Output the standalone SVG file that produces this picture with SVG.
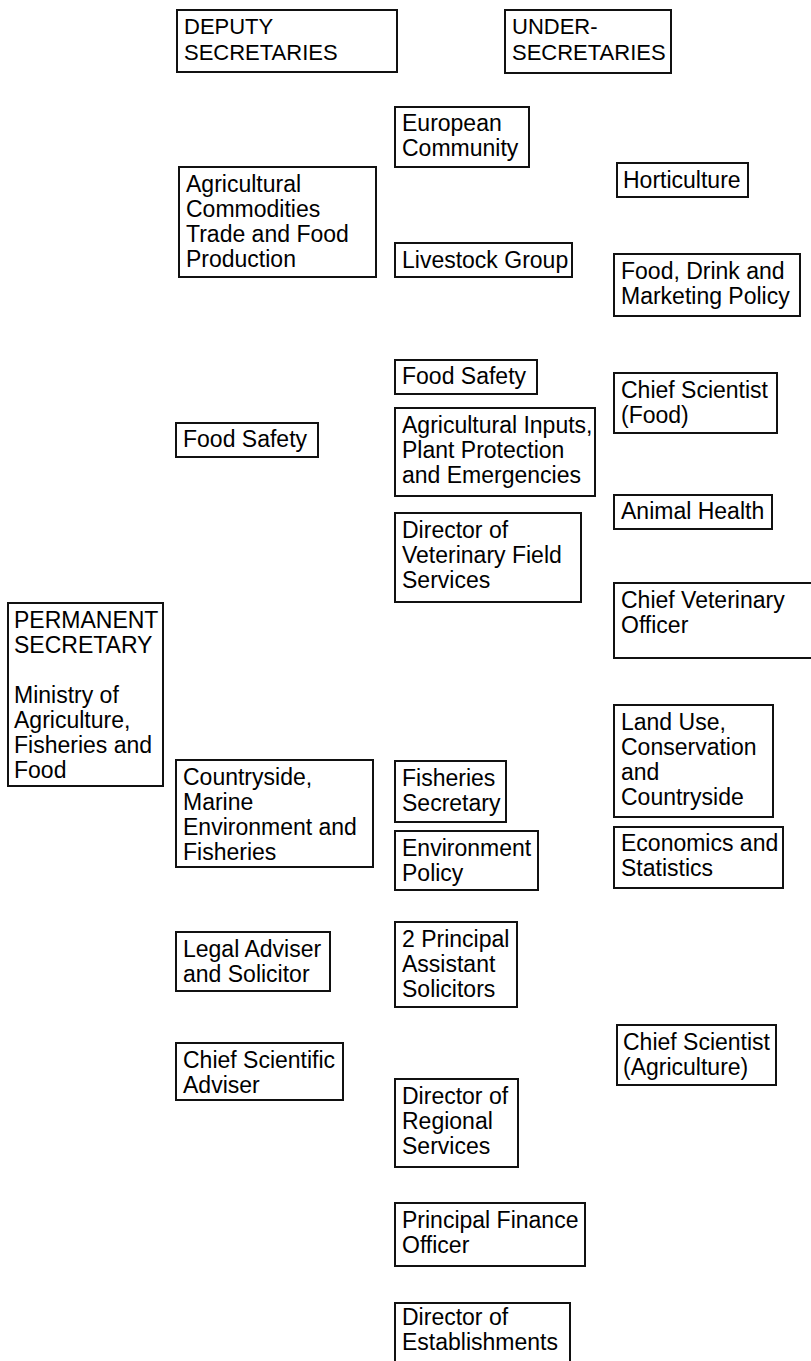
<svg xmlns="http://www.w3.org/2000/svg" width="811" height="1361" viewBox="0 0 811 1361">
<style>
rect{fill:#fff;stroke:#111;stroke-width:2}
text{font-family:"Liberation Sans",Arial,sans-serif;font-size:23px;fill:#000}
text.h{font-size:22px}
</style>
<rect x="0" y="0" width="811" height="1361" style="stroke:none"/>
<g id="connectors"></g>
<g id="deputy-header"><rect x="177" y="10" width="220" height="62"/><text class="h" x="184" y="34">DEPUTY</text><text class="h" x="184" y="60">SECRETARIES</text></g>
<g id="under-header"><rect x="505" y="10" width="166" height="63"/><text class="h" x="512" y="34">UNDER-</text><text class="h" x="512" y="60">SECRETARIES</text></g>
<g id="european"><rect x="395" y="107" width="134" height="60"/><text x="402" y="131">European</text><text x="402" y="156">Community</text></g>
<g id="agri-commodities"><rect x="179" y="167" width="197" height="110"/><text x="186" y="192">Agricultural</text><text x="186" y="217">Commodities</text><text x="186" y="242">Trade and Food</text><text x="186" y="267">Production</text></g>
<g id="horticulture"><rect x="617" y="163" width="131" height="34"/><text x="623" y="188">Horticulture</text></g>
<g id="livestock"><rect x="395" y="243" width="177" height="34"/><text x="402" y="268">Livestock Group</text></g>
<g id="food-drink"><rect x="614" y="254" width="186" height="62"/><text x="621" y="279">Food, Drink and</text><text x="621" y="304">Marketing Policy</text></g>
<g id="food-safety-us"><rect x="395" y="360" width="142" height="34"/><text x="402" y="384">Food Safety</text></g>
<g id="chief-sci-food"><rect x="614" y="373" width="163" height="60"/><text x="621" y="398">Chief Scientist</text><text x="621" y="423">(Food)</text></g>
<g id="food-safety-dep"><rect x="176" y="423" width="142" height="34"/><text x="183" y="447">Food Safety</text></g>
<g id="agri-inputs"><rect x="395" y="408" width="200" height="88"/><text x="402" y="433">Agricultural Inputs,</text><text x="402" y="458">Plant Protection</text><text x="402" y="483">and Emergencies</text></g>
<g id="animal-health"><rect x="614" y="495" width="158" height="34"/><text x="621" y="519">Animal Health</text></g>
<g id="vet-field"><rect x="395" y="513" width="186" height="89"/><text x="402" y="538">Director of</text><text x="402" y="563">Veterinary Field</text><text x="402" y="588">Services</text></g>
<g id="chief-vet"><rect x="614" y="583" width="210" height="75"/><text x="621" y="608">Chief Veterinary</text><text x="621" y="633">Officer</text></g>
<g id="permanent"><rect x="8" y="603" width="155" height="183"/><text x="14" y="628">PERMANENT</text><text x="14" y="653">SECRETARY</text><text x="14" y="703">Ministry of</text><text x="14" y="728">Agriculture,</text><text x="14" y="753">Fisheries and</text><text x="14" y="778">Food</text></g>
<g id="land-use"><rect x="614" y="705" width="159" height="112"/><text x="621" y="730">Land Use,</text><text x="621" y="755">Conservation</text><text x="621" y="780">and</text><text x="621" y="805">Countryside</text></g>
<g id="countryside"><rect x="176" y="760" width="197" height="107"/><text x="183" y="785">Countryside,</text><text x="183" y="810">Marine</text><text x="183" y="835">Environment and</text><text x="183" y="860">Fisheries</text></g>
<g id="fisheries-sec"><rect x="395" y="761" width="111" height="61"/><text x="402" y="786">Fisheries</text><text x="402" y="811">Secretary</text></g>
<g id="environment"><rect x="395" y="831" width="143" height="59"/><text x="402" y="856">Environment</text><text x="402" y="881">Policy</text></g>
<g id="economics"><rect x="614" y="827" width="169" height="61"/><text x="621" y="851">Economics and</text><text x="621" y="876">Statistics</text></g>
<g id="legal"><rect x="176" y="932" width="154" height="59"/><text x="183" y="957">Legal Adviser</text><text x="183" y="982">and Solicitor</text></g>
<g id="principal-solicitors"><rect x="395" y="922" width="122" height="85"/><text x="402" y="947">2 Principal</text><text x="402" y="972">Assistant</text><text x="402" y="997">Solicitors</text></g>
<g id="chief-sci-adviser"><rect x="176" y="1043" width="167" height="57"/><text x="183" y="1068">Chief Scientific</text><text x="183" y="1093">Adviser</text></g>
<g id="chief-sci-agri"><rect x="617" y="1025" width="159" height="60"/><text x="623" y="1050">Chief Scientist</text><text x="623" y="1075">(Agriculture)</text></g>
<g id="regional"><rect x="395" y="1079" width="123" height="88"/><text x="402" y="1104">Director of</text><text x="402" y="1129">Regional</text><text x="402" y="1154">Services</text></g>
<g id="finance"><rect x="395" y="1203" width="190" height="63"/><text x="402" y="1228">Principal Finance</text><text x="402" y="1253">Officer</text></g>
<g id="establishments"><rect x="395" y="1303" width="175" height="80"/><text x="402" y="1325">Director of</text><text x="402" y="1350">Establishments</text></g>
</svg>
